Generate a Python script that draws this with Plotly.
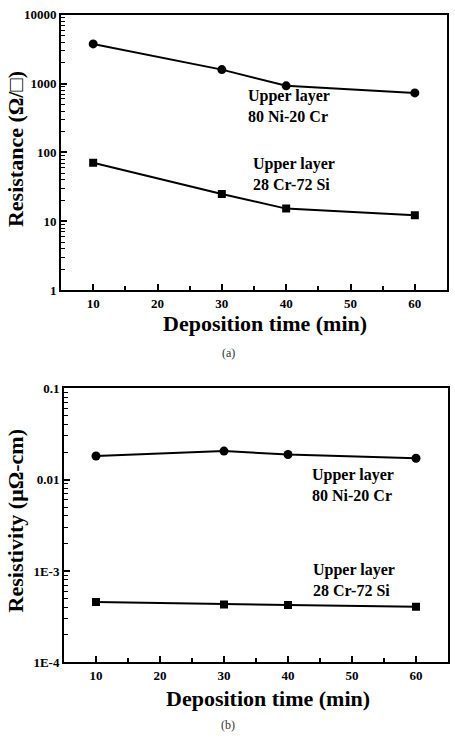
import plotly.graph_objects as go

time_min = [10, 30, 40, 60]
res_nicr = [3780, 1600, 930, 735]
res_crsi = [71, 25, 15.3, 12.3]
rho_nicr = [0.0181, 0.0205, 0.0188, 0.0171]
rho_crsi = [4.6e-4, 4.32e-4, 4.25e-4, 4.07e-4]

top_label_alias = {"10,000": "10000", "10 000": "10000"}
bot_label_alias = {"0.001": "1E-3", "0.0001": "1E-4"}

W, H = 455, 743
def px(x):
    return x / W
def py(y):
    return 1 - y / H

FONT = "'Liberation Serif', 'Times New Roman', Times, serif"
line = dict(color="black", width=2)

fig = go.Figure()
fig.add_trace(go.Scatter(x=time_min, y=res_nicr, mode="lines+markers", line=line,
                         marker=dict(symbol="circle", size=9, color="black"),
                         xaxis="x", yaxis="y", showlegend=False))
fig.add_trace(go.Scatter(x=time_min, y=res_crsi, mode="lines+markers", line=line,
                         marker=dict(symbol="square", size=8, color="black"),
                         xaxis="x", yaxis="y", showlegend=False))
fig.add_trace(go.Scatter(x=time_min, y=rho_nicr, mode="lines+markers", line=line,
                         marker=dict(symbol="circle", size=9, color="black"),
                         xaxis="x2", yaxis="y2", showlegend=False))
fig.add_trace(go.Scatter(x=time_min, y=rho_crsi, mode="lines+markers", line=line,
                         marker=dict(symbol="square", size=8, color="black"),
                         xaxis="x2", yaxis="y2", showlegend=False))

tickfont = dict(family=FONT, size=13, color="black", weight="bold")

def xax(domain, anchor):
    return dict(domain=domain, anchor=anchor, range=[5, 65], tickmode="linear",
                tick0=0, dtick=10, ticks="inside", ticklen=6, tickwidth=1.8,
                tickcolor="black", showline=True, linecolor="black", linewidth=2,
                mirror=True, showgrid=False, zeroline=False, tickfont=tickfont,
                minor=dict(tick0=5, dtick=10, ticks="inside", ticklen=4,
                           tickcolor="black", tickwidth=1.8, showgrid=False))

def yax(domain, anchor, rng, alias):
    return dict(domain=domain, anchor=anchor, type="log", range=rng, tickmode="linear",
                tick0=0, dtick=1, exponentformat="none", labelalias=alias,
                ticks="inside", ticklen=6, tickwidth=1.8, tickcolor="black",
                showline=True, linecolor="black", linewidth=2, mirror=True,
                showgrid=False, zeroline=False, tickfont=tickfont,
                minor=dict(dtick="D1", ticks="inside", ticklen=4, tickcolor="black",
                           tickwidth=1.3, showgrid=False))

annots = []
def note(text, x, y, size=16, angle=0, bold=True, xanchor="left", color="black"):
    annots.append(dict(text=text, x=px(x), y=py(y), xref="paper", yref="paper",
                       showarrow=False, xanchor=xanchor, yanchor="middle",
                       align="left", textangle=angle,
                       font=dict(family=FONT, size=size, color=color,
                                 weight="bold" if bold else "normal")))

note("Upper layer<br>80 Ni-20 Cr", 246, 101.5)
note("Upper layer<br>28 Cr-72 Si", 251, 170)
note("Upper layer<br>80 Ni-20 Cr", 310, 488)
note("Upper layer<br>28 Cr-72 Si", 311, 585)
note("Deposition time (min)", 265, 323, size=22, xanchor="center")
note("Deposition time (min)", 268, 706, size=22, xanchor="center")
note("Resistance (Ω/□)", 15, 145, size=22, angle=-90, xanchor="center")
note("Resistivity (μΩ-cm)", 15, 525, size=22, angle=-90, xanchor="center")
note("(a)", 228, 353, size=12, bold=False, xanchor="center", color="#333333")
note("(b)", 228, 733, size=12, bold=False, xanchor="center", color="#333333")

fig.update_layout(
    width=W, height=H, margin=dict(l=0, r=0, t=0, b=0),
    paper_bgcolor="white", plot_bgcolor="white",
    font=dict(family=FONT),
    xaxis=xax([px(61), px(447)], "y"),
    yaxis=yax([py(289), py(8)], "x", [0, 4], top_label_alias),
    xaxis2=xax([px(64), px(448)], "y2"),
    yaxis2=yax([py(669), py(389)], "x2", [-4, -1], bot_label_alias),
    annotations=annots,
)

fig.write_html("out.html")
